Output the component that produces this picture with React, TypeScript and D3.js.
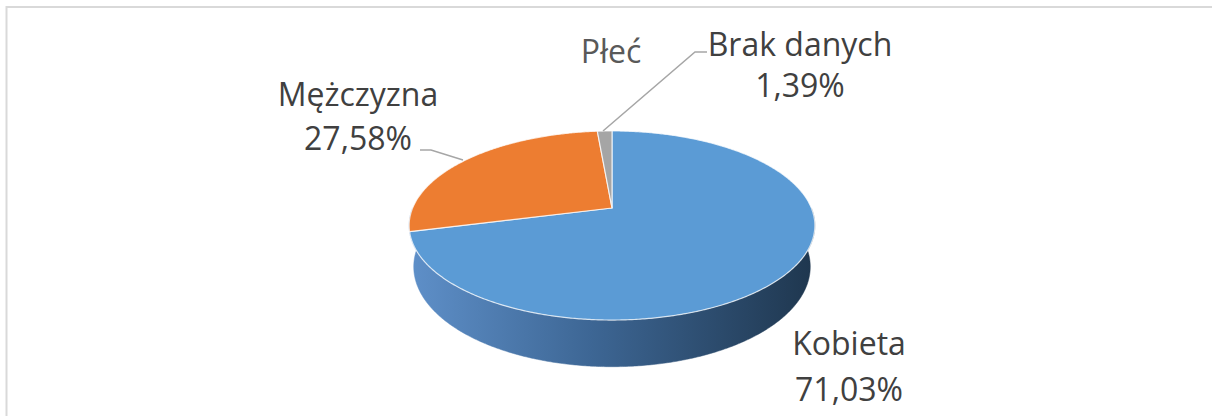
import React from "react";
import * as d3 from "d3";

const categories = ["Kobieta", "Mężczyzna", "Brak danych"];
const values = [71.03, 27.58, 1.39];
const valueLabels = ["71,03%", "27,58%", "1,39%"];
const topColors = ["#5B9BD5", "#ED7D31", "#A5A5A5"];
const sideColors = ["url(#sideBlue)", "#b5601f", "#7a7a7a"];
const title = "Płeć";

const W = 1213;
const H = 416;

// 3D camera (perspective) for the pie
const CX = 612;
const CY = 208;
const Hc = 2.2;
const Dc = 4.27;
const L2 = Hc * Hc + Dc * Dc;
const L = Math.sqrt(L2);
const F = 957.6;
const THICK = 0.2346;

function project(theta: number, yw: number): [number, number] {
  const x = Math.sin(theta);
  const z = -Math.cos(theta);
  const depth = (L2 - Hc * yw - Dc * z) / L;
  const sx = x;
  const sy = (Dc * yw - Hc * z) / L;
  return [CX + (F * sx) / depth, CY - (F * sy) / depth];
}

function arcPts(a0: number, a1: number, yw: number): [number, number][] {
  const n = Math.max(2, Math.ceil(((a1 - a0) * 180) / Math.PI) * 2);
  const pts: [number, number][] = [];
  for (let i = 0; i <= n; i++) pts.push(project(a0 + ((a1 - a0) * i) / n, yw));
  return pts;
}

const line = d3.line<[number, number]>();

// label layout (Excel placement)
const labelPos: { x: number; y1: number; y2: number }[] = [
  { x: 849, y1: 355, y2: 401 },
  { x: 358, y1: 106, y2: 150 },
  { x: 800, y1: 56, y2: 97 },
];
const leaders: ([number, number][] | null)[] = [
  null,
  [[420, 150], [431, 150], [463, 160]],
  [[603, 131], [695, 52], [707, 52]],
];

export default function App() {
  const pie = d3.pie<number>().sort(null).value((d) => d);
  const arcs = pie(values);

  const sideMin = Math.PI / 2;
  const sideMax = (3 * Math.PI) / 2;

  const sides = arcs
    .map((a, i) => {
      const s = Math.max(a.startAngle, sideMin);
      // the front slice's wall reaches the left silhouette
      const e = i === 0 ? sideMax : Math.min(a.endAngle, sideMax);
      if (e <= s || (i > 0 && a.startAngle >= arcs[0].endAngle && i !== 0 && s >= sideMax)) return null;
      if (i > 0) return null;
      const top = arcPts(s, e, 0);
      const bot = arcPts(s, e, -THICK).reverse();
      return { i, d: line([...top, ...bot])! + "Z" };
    })
    .filter((x) => x) as { i: number; d: string }[];

  const c0: [number, number] = [CX, CY];
  const tops = arcs.map((a, i) => {
    const pts = arcPts(a.startAngle, a.endAngle, 0);
    return { i, d: line([c0, ...pts])! + "Z" };
  });

  const left = project((3 * Math.PI) / 2, 0)[0];
  const right = project(Math.PI / 2, 0)[0];

  const font = "'Open Sans', sans-serif";

  return (
    <svg
      width={W}
      height={H}
      style={{ position: "absolute", left: 0, top: 0, background: "#fff" }}
    >
      <defs>
        <linearGradient id="sideBlue" gradientUnits="userSpaceOnUse" x1={left} y1={0} x2={right} y2={0}>
          <stop offset="0" stopColor="#5e8fc8" />
          <stop offset="0.45" stopColor="#3d6694" />
          <stop offset="1" stopColor="#1f374f" />
        </linearGradient>
      </defs>
      <rect x={0} y={0} width={W} height={H} fill="#fff" />
      <path d={`M6.5,${H} L6.5,7 L1212,7`} fill="none" stroke="#d9d9d9" strokeWidth={2} />

      {sides.map((s) => (
        <path key={"s" + s.i} d={s.d} fill={sideColors[s.i]} stroke={sideColors[s.i]} strokeWidth={0.5} />
      ))}
      {tops.map((t) => (
        <path
          key={"t" + t.i}
          d={t.d}
          fill={topColors[t.i]}
          stroke="#ffffff"
          strokeOpacity={0.75}
          strokeWidth={1.2}
          strokeLinejoin="round"
        />
      ))}

      {leaders.map((l, i) =>
        l ? <path key={"l" + i} d={line(l)!} fill="none" stroke="#a6a6a6" strokeWidth={1.5} /> : null
      )}

      <text x={611} y={63} textAnchor="middle" fontFamily={font} fontSize={32} fill="#595959">
        {title}
      </text>
      {categories.map((c, i) => (
        <g key={"lab" + i} fontFamily={font} fontSize={32} fill="#404040" textAnchor="middle">
          <text x={labelPos[i].x} y={labelPos[i].y1}>{c}</text>
          <text x={labelPos[i].x} y={labelPos[i].y2}>{valueLabels[i]}</text>
        </g>
      ))}
    </svg>
  );
}
